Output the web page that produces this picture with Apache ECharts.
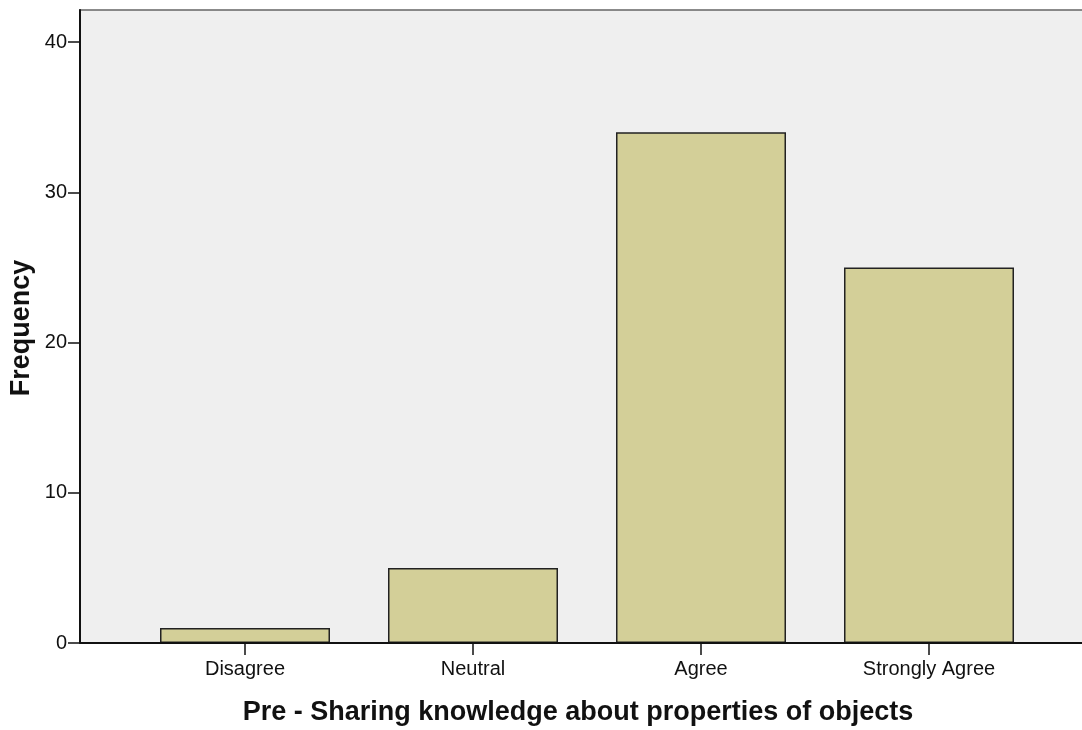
<!DOCTYPE html>
<html><head><meta charset="utf-8">
<script src="https://cdn.jsdelivr.net/npm/echarts@6/dist/echarts.min.js"></script>
<style>html,body{margin:0;padding:0;background:#fff}#c{width:1082px;height:730px}</style>
</head><body><div id="c"></div>
<script>
const categories = ['Disagree', 'Neutral', 'Agree', 'Strongly Agree'];
const frequency = [1, 5, 34, 25];
const yTicks = [0, 10, 20, 30, 40];
const xTitle = 'Pre - Sharing knowledge about properties of objects';
const yTitle = 'Frequency';

const chart = echarts.init(document.getElementById('c'), null, {renderer: 'canvas'});
const font = 'Liberation Sans, Arial, sans-serif';
const yMax = 42.13;
chart.setOption({
  animation: false,
  grid: [
    {left: 80, top: 10, width: 1013, height: 633, show: true, backgroundColor: '#efefef', borderColor: '#666', borderWidth: 1.5, outerBoundsMode: 'none'},
    {left: 131, top: 10, width: 912, height: 633, outerBoundsMode: 'none'}
  ],
  xAxis: [
    {gridIndex: 0, type: 'value', min: 0, max: 1, show: false},
    {gridIndex: 1, type: 'category', data: categories,
     axisLine: {show: false},
     axisTick: {show: true, alignWithLabel: true, length: 12, lineStyle: {color: '#111', width: 1.5}},
     axisLabel: {interval: 0, color: '#111', fontSize: 20, fontFamily: font, margin: 16}}
  ],
  yAxis: [
    {gridIndex: 0, type: 'value', min: 0, max: yMax,
     splitLine: {show: false},
     axisLine: {show: true, lineStyle: {color: '#111', width: 2}},
     axisTick: {show: true, length: 12, customValues: yTicks, lineStyle: {color: '#111', width: 1.5}},
     axisLabel: {color: '#111', fontSize: 20, fontFamily: font, margin: 13, customValues: yTicks}},
    {gridIndex: 1, type: 'value', min: 0, max: yMax, show: false}
  ],
  series: [
    {type: 'bar', xAxisIndex: 1, yAxisIndex: 1, data: frequency, barWidth: 170,
     itemStyle: {color: '#d3cf98', borderColor: '#222', borderWidth: 1.5}}
  ],
  graphic: [
    {type: 'line', shape: {x1: 80, y1: 643, x2: 1082, y2: 643}, style: {stroke: '#111', lineWidth: 2}, z: 100},
    {type: 'text', x: 578, y: 713, style: {text: xTitle, font: 'bold 27px ' + font, fill: '#111', textAlign: 'center', textVerticalAlign: 'middle'}},
    {type: 'text', x: 22, y: 328, rotation: Math.PI / 2, style: {text: yTitle, font: 'bold 27px ' + font, fill: '#111', textAlign: 'center', textVerticalAlign: 'middle'}}
  ]
});
</script></body></html>
